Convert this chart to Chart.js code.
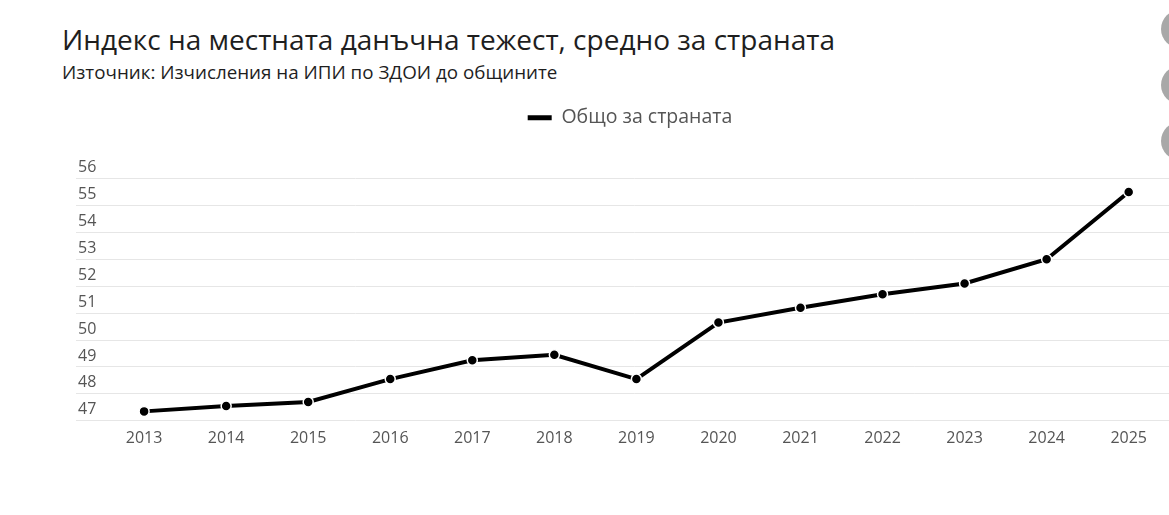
<!DOCTYPE html>
<html lang="bg">
<head>
<meta charset="utf-8">
<title>Индекс на местната данъчна тежест</title>
<script src="https://cdn.jsdelivr.net/npm/chart.js@4/dist/chart.umd.min.js"></script>
<style>
  html, body { margin: 0; padding: 0; background: #fff; overflow: hidden; }
  body { width: 1169px; height: 515px; position: relative; font-family: "Open Sans", sans-serif; color: #1e1e1e; }
  h1 { position: absolute; left: 62px; top: 23px; margin: 0; font-size: 28px; font-weight: 400; white-space: nowrap; line-height: 1.2; }
  .sub { position: absolute; left: 62px; top: 61px; margin: 0; font-size: 18.8px; white-space: nowrap; line-height: 1.2; }
  .btn { position: absolute; left: 1161px; width: 38px; height: 38px; border-radius: 50%; background: #a8a8a8; }
  #wrap { position: absolute; left: 60px; top: 100px; width: 1140px; height: 348px; }
</style>
</head>
<body>
<h1>Индекс на местната данъчна тежест, средно за страната</h1>
<p class="sub">Източник: Изчисления на ИПИ по ЗДОИ до общините</p>
<div class="btn" style="top: 10px"></div>
<div class="btn" style="top: 66px"></div>
<div class="btn" style="top: 122px"></div>
<div id="wrap"><canvas id="chart"></canvas></div>
<script>
const years = [2013, 2014, 2015, 2016, 2017, 2018, 2019, 2020, 2021, 2022, 2023, 2024, 2025];
const values = [47.35, 47.55, 47.7, 48.55, 49.25, 49.45, 48.55, 50.65, 51.2, 51.7, 52.1, 53.0, 55.5];
const seriesLabel = "Общо за страната";
const yTicks = [47, 48, 49, 50, 51, 52, 53, 54, 55, 56];

const tickColor = "#555";
const gridColor = "#e6e6e6";

// extra room between the legend and the plot
const legendGap = {
  id: "legendGap",
  beforeInit(chart) {
    const fit = chart.legend.fit;
    chart.legend.fit = function () {
      fit.bind(chart.legend)();
      this.height += 41;
    };
  },
};

new Chart(document.querySelector("#chart"), {
  type: "line",
  data: {
    datasets: [
      {
        label: seriesLabel,
        data: years.map((year, i) => ({ x: year, y: values[i] })),
        borderColor: "#000",
        backgroundColor: "#000",
        borderWidth: 4,
        tension: 0,
        pointRadius: 5,
        pointHoverRadius: 5,
        pointBackgroundColor: "#000",
        pointBorderColor: "#fff",
        pointBorderWidth: 1.5,
      },
    ],
  },
  options: {
    responsive: true,
    maintainAspectRatio: false,
    animation: false,
    layout: { padding: 0 },
    scales: {
      x: {
        type: "linear",
        min: 2012.17,
        max: 2025.79,
        afterBuildTicks: (scale) => {
          scale.ticks = years.map((year) => ({ value: year }));
        },
        grid: { display: false },
        border: { display: false },
        ticks: {
          color: tickColor,
          font: { family: "Open Sans", size: 16 },
          padding: 0,
          autoSkip: false,
          maxRotation: 0,
          callback: (value) => String(value),
        },
      },
      y: {
        min: yTicks[0],
        max: yTicks[yTicks.length - 1],
        afterBuildTicks: (scale) => {
          scale.ticks = yTicks.map((v) => ({ value: v }));
        },
        afterFit: (scale) => {
          scale.width = 16;
        },
        grid: { color: gridColor, lineWidth: 1, drawTicks: false },
        border: { display: false },
        ticks: {
          mirror: true,
          padding: 2,
          labelOffset: -11,
          color: tickColor,
          font: { family: "Open Sans", size: 16 },
        },
      },
    },
    plugins: {
      legend: {
        position: "top",
        labels: {
          usePointStyle: true,
          pointStyleWidth: 24,
          color: tickColor,
          font: { family: "Open Sans", size: 19.5 },
          padding: 8,
          generateLabels: (chart) =>
            chart.data.datasets.map((ds, i) => ({
              text: ds.label,
              datasetIndex: i,
              pointStyle: "line",
              strokeStyle: "#000",
              fillStyle: "#000",
              lineWidth: 5,
              fontColor: tickColor,
              hidden: false,
            })),
        },
      },
      tooltip: { enabled: false },
    },
  },
  plugins: [legendGap],
});
</script>
</body>
</html>
